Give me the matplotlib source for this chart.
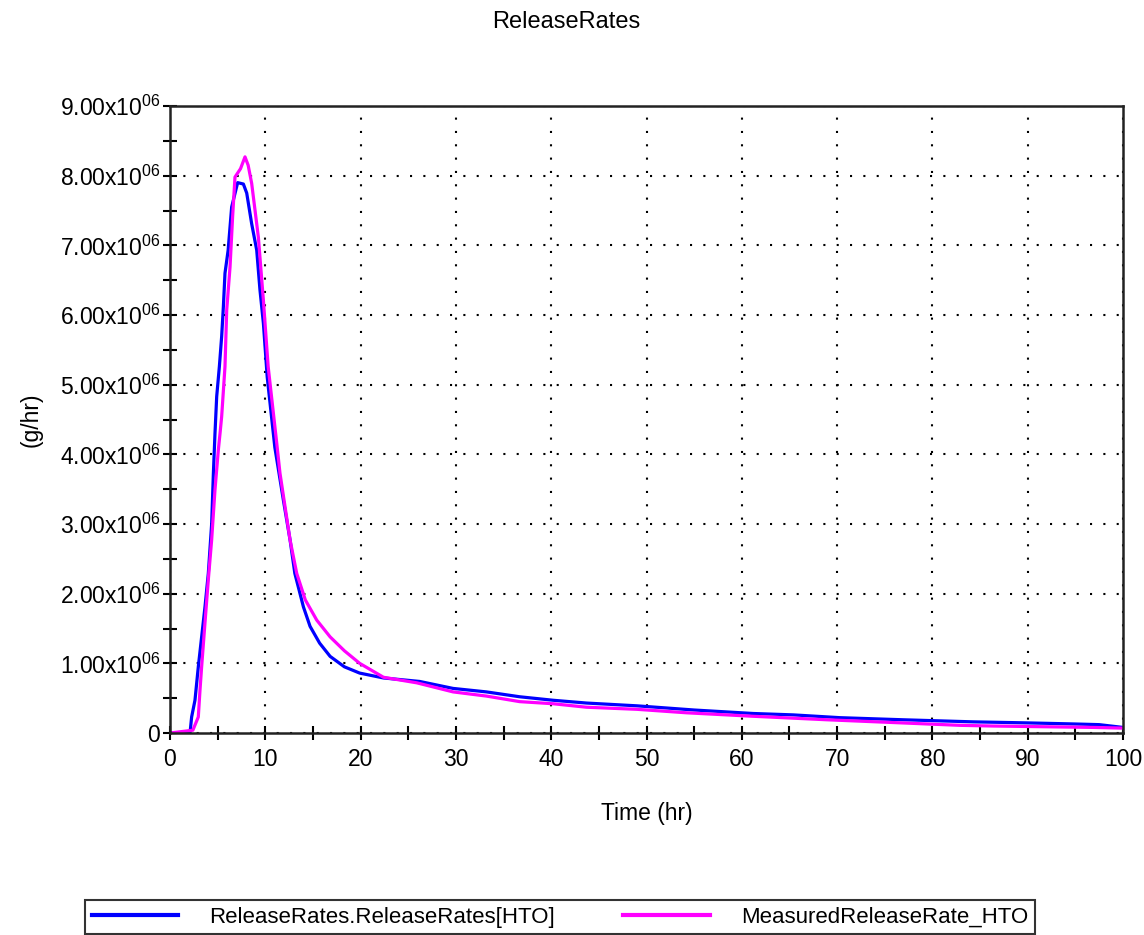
import numpy as np
import matplotlib
matplotlib.use("Agg")
import matplotlib.pyplot as plt
from matplotlib.ticker import MultipleLocator

plt.rcParams["font.family"] = ["Liberation Sans", "DejaVu Sans"]
plt.rcParams["mathtext.default"] = "regular"

# --- dane (czas w h, wartosci w 1e6 g/hr) ---
t_model = [0, 2.1, 2.27, 2.62, 2.97, 3.32, 3.67, 4.02, 4.37, 4.55, 4.72, 4.9,
           5.18, 5.42, 5.6, 5.77, 6.1, 6.47, 7.1, 7.7, 8.05, 8.57, 9.1, 9.44,
           9.8, 10.2, 11.0, 11.9, 12.6, 13.1, 14.0, 14.7, 15.7, 16.8, 18.3,
           19.9, 22.4, 26.2, 29.7, 33.2, 36.7, 40.2, 43.7, 49.0, 55.0, 61.2,
           65.4, 70.3, 76.9, 84.3, 90.0, 94.8, 97.5, 100]
v_model = [0, 0, 0.23, 0.47, 0.95, 1.38, 1.81, 2.29, 3.0, 3.72, 4.3, 4.83,
           5.26, 5.69, 6.12, 6.6, 6.93, 7.55, 7.9, 7.88, 7.75, 7.31, 6.93, 6.36,
           5.88, 5.11, 4.1, 3.34, 2.77, 2.29, 1.81, 1.53, 1.29, 1.1, 0.95,
           0.86, 0.79, 0.74, 0.64, 0.59, 0.52, 0.47, 0.43, 0.39, 0.33, 0.28,
           0.26, 0.22, 0.19, 0.16, 0.145, 0.13, 0.12, 0.08]

t_meas = [0, 2.4, 2.97, 3.15, 3.32, 3.67, 4.02, 4.37, 4.72, 5.07, 5.25, 5.42,
          5.77, 5.95, 6.3, 6.57, 6.82, 7.4, 7.87, 8.2, 8.57, 9.27, 9.8, 10.3,
          11.2, 11.54, 12.07, 12.6, 13.3, 14.2, 15.4, 16.8, 18.3, 19.9, 22.4,
          25.9, 29.7, 33.2, 36.7, 40.2, 43.7, 49.0, 54.2, 61.2, 68.9, 75.9,
          82.9, 86.4, 96.9, 100]
v_meas = [0, 0.04, 0.23, 0.62, 0.95, 1.58, 2.2, 2.77, 3.49, 4.06, 4.3, 4.54,
          5.26, 6.07, 6.69, 7.41, 7.98, 8.1, 8.27, 8.15, 7.89, 7.12, 6.21, 5.26,
          4.16, 3.73, 3.25, 2.77, 2.29, 1.91, 1.62, 1.38, 1.18, 1.0, 0.8,
          0.72, 0.59, 0.53, 0.45, 0.42, 0.37, 0.34, 0.29, 0.24, 0.19, 0.15,
          0.11, 0.10, 0.08, 0.07]

label_model = "ReleaseRates.ReleaseRates[HTO]"
label_meas = "MeasuredReleaseRate_HTO"

y_ticks = [0, 1e6, 2e6, 3e6, 4e6, 5e6, 6e6, 7e6, 8e6, 9e6]
y_tick_labels = ["0"] + [f"{k}.00x10$^{{06}}$" for k in range(1, 10)]
x_ticks = [0, 10, 20, 30, 40, 50, 60, 70, 80, 90, 100]

fig = plt.figure(figsize=(11.44, 9.35), dpi=100, facecolor="white")
ax = fig.add_axes([170 / 1144, 1 - 733 / 935, (1123 - 170) / 1144, (733 - 106) / 935])

ax.plot(t_model, np.array(v_model) * 1e6, color="#0000ff", lw=2.3, label=label_model)
ax.plot(t_meas, np.array(v_meas) * 1e6, color="#ff00ff", lw=2.3, label=label_meas)

ax.set_xlim(0, 100)
ax.set_ylim(0, 9e6)
ax.set_xticks(x_ticks)
ax.set_xticklabels([str(x) for x in x_ticks])
ax.set_yticks(y_ticks)
ax.set_yticklabels(y_tick_labels)
ax.xaxis.set_minor_locator(MultipleLocator(5))
ax.yaxis.set_minor_locator(MultipleLocator(0.5e6))
ax.tick_params(which="both", direction="inout", length=10, width=1.5,
               labelsize=16.5, colors="black")
ax.tick_params(axis="y", pad=2)
ax.tick_params(axis="x", pad=6)

for s in ax.spines.values():
    s.set_linewidth(1.8)
    s.set_color("#222222")

ax.grid(True, which="major", color="black", lw=1.5, linestyle=(0, (1, 5.4)))

ax.set_xlabel("Time (hr)", fontsize=16.5, labelpad=22)
ax.set_ylabel("(g/hr)", fontsize=16.5, labelpad=12)
fig.text(566 / 1144, 1 - 22 / 935, "ReleaseRates", fontsize=17, ha="center", va="center")

leg = fig.legend(loc="upper left", bbox_to_anchor=(85 / 1144, 1 - 900 / 935),
                 ncol=2, fontsize=16, frameon=True, fancybox=False,
                 edgecolor="black", borderaxespad=0, borderpad=0.3,
                 handlelength=3.9, handletextpad=1.4, columnspacing=3.05)
leg.get_frame().set_linewidth(1.5)
for line in leg.get_lines():
    line.set_linewidth(3)

fig.savefig("out.png", dpi=100, facecolor="white")
